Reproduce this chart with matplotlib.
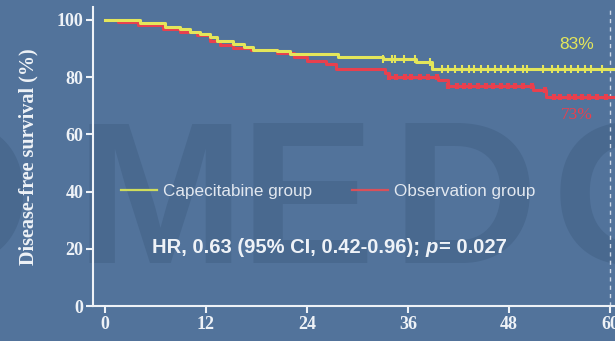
"""
Kaplan-Meier plot of disease-free survival, capecitabine vs observation.
"""
import numpy as np
import matplotlib
matplotlib.use('Agg')
import matplotlib.pyplot as plt
from matplotlib.lines import Line2D

# step points (month, DFS %) for each arm
cape_months = [0, 4.2, 7.1, 8.9, 10.1, 11.3, 12.5, 13.3, 15.2, 16.5, 17.6,
               20.4, 22.0, 27.7, 33.0, 36.9, 38.9, 61]
cape_dfs = [100, 99.0, 97.6, 96.8, 95.8, 95.0, 94.0, 92.7, 91.5, 90.5, 89.6,
            89.0, 88.2, 87.0, 86.4, 85.2, 83, 83]
obs_months = [0, 1.5, 3.9, 6.9, 8.9, 10.9, 12.5, 13.7, 15.2, 17.3, 20.4,
              22.4, 24.0, 26.2, 27.4, 33.3, 33.7, 39.6, 40.8, 50.8, 52.4, 61]
obs_dfs = [100, 99.4, 98.3, 96.9, 95.8, 94.6, 92.5, 91.1, 90.2, 89.6, 88.6,
           87.0, 85.8, 84.5, 82.8, 81.5, 80.0, 79.0, 77.0, 75.5, 73, 73]

# censored patients (month)
cape_censor = [33.0, 34.1, 34.5, 35.5, 36.8, 38.6, 40.0, 40.8, 41.6, 42.4,
               43.2, 43.9, 44.7, 45.5, 46.3, 47.1, 47.9, 48.7, 49.7, 50.1,
               52.1, 53.1, 53.8, 54.6, 55.4, 56.2, 57.0, 57.8, 59.0]
obs_censor = [33.8, 34.6, 35.6, 36.4, 37.4, 38.4, 39.4, 40.8, 41.8, 42.6,
              43.4, 44.3, 45.3, 46.1, 47.1, 47.9, 48.7, 49.7, 50.7, 52.3,
              53.3, 54.1, 55.1, 55.9, 56.7, 57.5, 58.5, 59.5]

group_names = ['Capecitabine group', 'Observation group']
x_ticks = [0, 12, 24, 36, 48, 60]
y_ticks = [0, 20, 40, 60, 80, 100]
landmark = 60
hr_text = 'HR, 0.63 (95% CI, 0.42-0.96);'
p_text = '= 0.027'

BG = '#52739b'
YELLOW = '#e4e65a'
RED = '#e8404e'
WHITE = '#eef2f7'


def value_at(months, dfs, t):
    """
    Survival value of a step curve at time t.
    """
    idx = np.searchsorted(months, t, side='right') - 1
    return np.asarray(dfs)[idx]


def draw_arm(ax, months, dfs, censor, color, marker_w, marker_s):
    ax.step(months, dfs, where='post', color=color, lw=2.2, zorder=3)
    ax.plot(censor, value_at(months, dfs, censor), ls='none', marker='|',
            ms=marker_s, mew=marker_w, color=color, zorder=4)


if __name__ == '__main__':
    plt.rcParams['font.family'] = 'Liberation Serif'
    fig = plt.figure(figsize=(6.15, 3.41), dpi=100, facecolor=BG)

    # faint logo letters behind the plot
    wm = dict(family='Liberation Sans', weight='bold', fontsize=146,
              color='#49698f', va='baseline', ha='left', zorder=0)
    for letter, xpos in [('O', -0.205), ('M', 0.122), ('E', 0.39),
                         ('D', 0.637), ('O', 0.897)]:
        fig.text(xpos, 0.229, letter, **wm)

    ax = fig.add_axes([0.1512, 0.1026, 0.8488, 0.8768])
    ax.set_zorder(2)
    ax.set_facecolor('none')

    draw_arm(ax, obs_months, obs_dfs, obs_censor, RED, 3.0, 4.5)
    draw_arm(ax, cape_months, cape_dfs, cape_censor, YELLOW, 1.5, 6)

    ax.axvline(landmark, color='#c9d5e5', lw=1, ls=(0, (3, 3)), zorder=2)

    ax.set_xlim(-1.43, 60.6)
    ax.set_ylim(0, 104.5)
    ax.set_xticks(x_ticks)
    ax.set_yticks(y_ticks)
    for side in ['top', 'right']:
        ax.spines[side].set_visible(False)
    for side in ['left', 'bottom']:
        ax.spines[side].set_color(WHITE)
        ax.spines[side].set_linewidth(1.5)
    ax.tick_params(colors=WHITE, width=1.5, length=5, labelsize=13, pad=2)
    for lab in ax.get_xticklabels() + ax.get_yticklabels():
        lab.set_fontweight('bold')
    ax.set_ylabel('Disease-free survival (%)', fontsize=14.5,
                  fontweight='bold', color=WHITE, labelpad=13)

    # 5-year rates
    ax.text(56.0, 91.3, '%d%%' % cape_dfs[-1], color=YELLOW, fontsize=12.5,
            family='Liberation Sans', ha='center', va='center')
    ax.text(56.1, 66.8, '%d%%' % obs_dfs[-1], color=RED, fontsize=12.5,
            ha='center', va='center')

    handles = [Line2D([], [], color='#cfdc5c', lw=1.6),
               Line2D([], [], color='#d9505a', lw=1.6)]
    leg = ax.legend(handles, group_names, ncol=2, frameon=False,
                    loc='center left', bbox_to_anchor=(0.054, 0.383),
                    borderaxespad=0, borderpad=0, handlelength=2.1,
                    handletextpad=0.35, columnspacing=2.35,
                    prop={'family': 'Liberation Sans', 'size': 12.3})
    for txt in leg.get_texts():
        txt.set_color('#e2e8f0')

    sans_bold = dict(family='Liberation Sans', weight='bold', fontsize=14.5,
                     color=WHITE)
    t1 = ax.text(5.6, 20.3, hr_text, va='center', ha='left', **sans_bold)
    t2 = ax.annotate('p', xy=(1, 0), xycoords=t1, xytext=(4, 0),
                     textcoords='offset points', va='bottom', ha='left',
                     style='italic', **sans_bold)
    ax.annotate(p_text, xy=(1, 0), xycoords=t2, xytext=(0.5, 0),
                textcoords='offset points', va='bottom', ha='left',
                **sans_bold)

    plt.savefig('out.png', dpi=100, facecolor=BG)
    plt.close('all')
